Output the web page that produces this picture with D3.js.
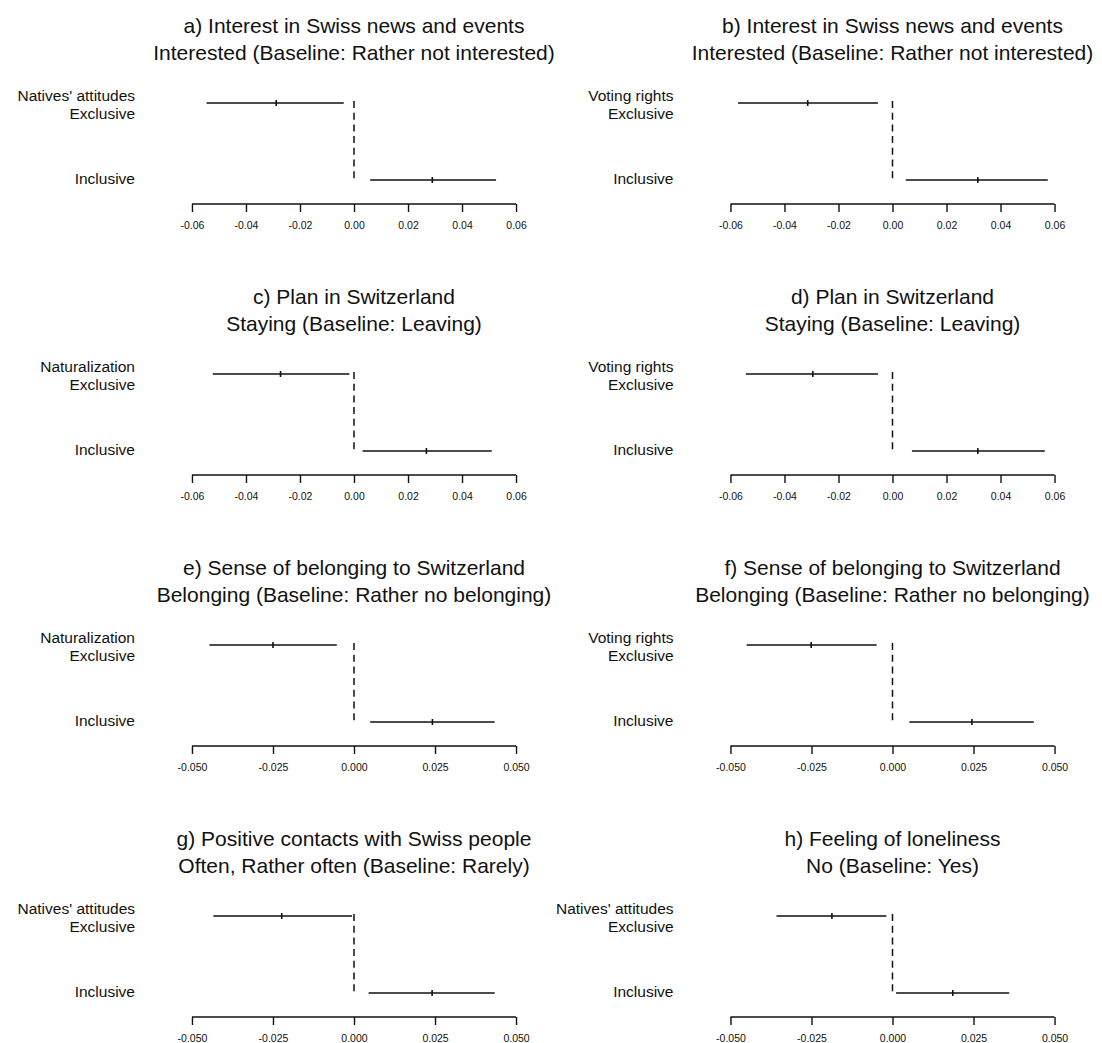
<!DOCTYPE html>
<html>
<head>
<meta charset="utf-8">
<script src="https://cdn.jsdelivr.net/npm/d3@7"></script>
<style>
  html, body { margin: 0; padding: 0; background: #fff; }
  svg { display: block; }
  text { font-family: "Liberation Sans", Arial, sans-serif; fill: #111; }
</style>
</head>
<body>
<svg id="chart" width="1102" height="1043"></svg>
<script>
// Panel headings (two lines each)
const titles = [
  "a) Interest in Swiss news and events",
  "b) Interest in Swiss news and events",
  "c) Plan in Switzerland",
  "d) Plan in Switzerland",
  "e) Sense of belonging to Switzerland",
  "f) Sense of belonging to Switzerland",
  "g) Positive contacts with Swiss people",
  "h) Feeling of loneliness"
];
const subtitles = [
  "Interested (Baseline: Rather not interested)",
  "Interested (Baseline: Rather not interested)",
  "Staying (Baseline: Leaving)",
  "Staying (Baseline: Leaving)",
  "Belonging (Baseline: Rather no belonging)",
  "Belonging (Baseline: Rather no belonging)",
  "Often, Rather often (Baseline: Rarely)",
  "No (Baseline: Yes)"
];
// Context variable of each panel
const groups = [
  "Natives' attitudes", "Voting rights",
  "Naturalization", "Voting rights",
  "Naturalization", "Voting rights",
  "Natives' attitudes", "Natives' attitudes"
];
const categories = ["Exclusive", "Inclusive"];

// Marginal effects: point estimate and 95% interval, [Exclusive, Inclusive]
const estimates = [
  [-0.0288, 0.0290], [-0.0314, 0.0316],
  [-0.0272, 0.0268], [-0.0295, 0.0316],
  [-0.0250, 0.0242], [-0.0251, 0.0245],
  [-0.0223, 0.0241], [-0.0187, 0.0186]
];
const lower = [
  [-0.0546, 0.0060], [-0.0572, 0.0049],
  [-0.0523, 0.0032], [-0.0543, 0.0072],
  [-0.0446, 0.0050], [-0.0450, 0.0052],
  [-0.0434, 0.0045], [-0.0358, 0.0011]
];
const upper = [
  [-0.0038, 0.0526], [-0.0054, 0.0575],
  [-0.0017, 0.0510], [-0.0054, 0.0564],
  [-0.0053, 0.0434], [-0.0049, 0.0436],
  [-0.0006, 0.0434], [-0.0019, 0.0360]
];

// Axis ticks per panel
const ticksWide = [-0.06, -0.04, -0.02, 0, 0.02, 0.04, 0.06];
const tickLabelsWide = ["-0.06", "-0.04", "-0.02", "0.00", "0.02", "0.04", "0.06"];
const ticksNarrow = [-0.05, -0.025, 0, 0.025, 0.05];
const tickLabelsNarrow = ["-0.050", "-0.025", "0.000", "0.025", "0.050"];
const axisKind = ["wide", "wide", "wide", "wide", "narrow", "narrow", "narrow", "narrow"];

const svg = d3.select("#chart");

const colRange = [[179, 529], [717.5, 1067.5]];
const rowStep = 271;

titles.forEach((title, i) => {
  const col = i % 2, row = Math.floor(i / 2);
  const g = svg.append("g").attr("transform", `translate(0,${row * rowStep})`);
  const wide = axisKind[i] === "wide";
  const tv = wide ? ticksWide : ticksNarrow;
  const tl = wide ? tickLabelsWide : tickLabelsNarrow;
  const lim = tv[tv.length - 1];

  const x = d3.scaleLinear().domain([-lim * 1.08, lim * 1.08]).range(colRange[col]);
  const y = d3.scalePoint().domain(categories).range([103, 180]);
  const cx = (colRange[col][0] + colRange[col][1]) / 2;

  // Titles
  g.append("text").attr("x", cx).attr("y", 25).attr("text-anchor", "middle")
    .attr("dominant-baseline", "central").style("font-size", "21px").text(title);
  g.append("text").attr("x", cx).attr("y", 52).attr("text-anchor", "middle")
    .attr("dominant-baseline", "central").style("font-size", "21px").text(subtitles[i]);

  // Category labels on the left
  const labelX = colRange[col][0] - 44;
  g.append("text").attr("x", labelX).attr("y", y("Exclusive") - 7.5)
    .attr("text-anchor", "end").attr("dominant-baseline", "central")
    .style("font-size", "15.5px").text(groups[i]);
  g.append("text").attr("x", labelX).attr("y", y("Exclusive") + 10.5)
    .attr("text-anchor", "end").attr("dominant-baseline", "central")
    .style("font-size", "15.5px").text("Exclusive");
  g.append("text").attr("x", labelX).attr("y", y("Inclusive") - 1.5)
    .attr("text-anchor", "end").attr("dominant-baseline", "central")
    .style("font-size", "15.5px").text("Inclusive");

  // Reference line at zero
  g.append("line")
    .attr("x1", x(0)).attr("x2", x(0))
    .attr("y1", y("Exclusive") - 2).attr("y2", y("Inclusive") + 3)
    .attr("stroke", "#111").attr("stroke-width", 1.5)
    .attr("stroke-dasharray", "7,4.7");

  // Confidence intervals and point estimates
  categories.forEach((c, k) => {
    g.append("line")
      .attr("x1", x(lower[i][k])).attr("x2", x(upper[i][k]))
      .attr("y1", y(c)).attr("y2", y(c))
      .attr("stroke", "#111").attr("stroke-width", 1.6);
    g.append("line")
      .attr("x1", x(estimates[i][k])).attr("x2", x(estimates[i][k]))
      .attr("y1", y(c) - 3).attr("y2", y(c) + 3)
      .attr("stroke", "#111").attr("stroke-width", 1.6);
  });

  // Bottom axis, with the line spanning the outer ticks only
  const axis = d3.axisBottom(x).tickValues(tv)
    .tickFormat((d, j) => tl[j]).tickSize(8).tickSizeOuter(0).tickPadding(10);
  const ag = g.append("g").attr("transform", "translate(0,204)").call(axis);
  ag.select(".domain").remove();
  ag.append("line").attr("x1", x(tv[0])).attr("x2", x(lim)).attr("y1", 0).attr("y2", 0)
    .attr("stroke", "#111").attr("stroke-width", 1.4);
  ag.selectAll(".tick line").attr("stroke", "#111").attr("stroke-width", 1.4);
  ag.selectAll(".tick text")
    .style("font-size", "10.5px").style("font-family", "'Liberation Sans', Arial, sans-serif")
    .attr("fill", "#222");
});
</script>
</body>
</html>
